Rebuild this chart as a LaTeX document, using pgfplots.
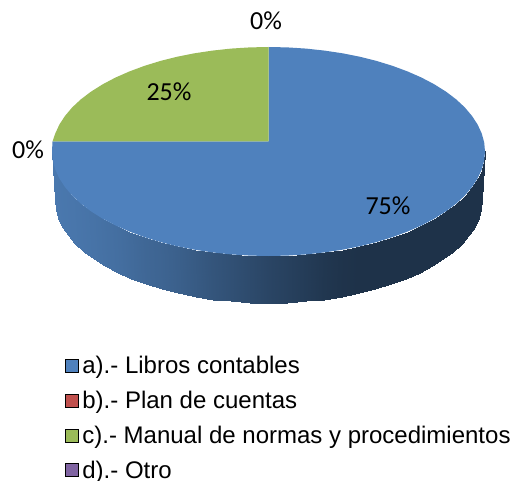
\documentclass[border=0pt]{standalone}
\usepackage{fontspec}
\usepackage{pgfplots}
\pgfplotsset{compat=1.18}
\setmainfont{Liberation Sans}
\newfontfamily\calibri{Carlito}
\definecolor{piea}{RGB}{79,129,189}
\definecolor{pieb}{RGB}{192,80,77}
\definecolor{piec}{RGB}{155,187,89}
\definecolor{pied}{RGB}{128,100,162}
\pgfplotsset{
  swatch/.style={legend image code/.code={\fill[##1] (0pt,-6.5pt) rectangle (13pt,6.5pt);\path (17pt,0pt);}},
}
\tikzset{pct/.style={font=\calibri\fontsize{26}{26}\selectfont,black,inner sep=0pt}}
\begin{document}
\begin{tikzpicture}
\begin{axis}[
  width=511pt, height=481pt, scale only axis,
  xmin=0, xmax=511, ymin=0, ymax=481, y dir=reverse,
  hide axis, clip=false,
  colormap={side}{rgb255=(30,50,73) rgb255=(74,120,174)},
  point meta min=0, point meta max=1,
  legend style={at={(axis cs:65,356)}, anchor=north west, draw=none, fill=none,
    inner sep=0pt, outer sep=0pt, font=\fontsize{24}{24}\selectfont,
    row sep=16pt, nodes={inner sep=0pt, outer sep=0pt}},
  legend cell align=left,
]
% side wall, top edge then bottom edge
\addplot[surf, shader=interp, mesh/rows=2, point meta=explicit, forget plot] table[meta=c] {
x y c
52.0 151.5 1
52.8 160.6 1
55.3 169.6 1
59.4 178.5 .99
65.1 187.2 .98
72.3 195.7 .97
81.0 203.8 .95
91.1 211.4 .93
102.7 218.7 .90
115.4 225.4 .87
129.3 231.5 .82
144.3 237.1 .76
160.2 242.0 .72
177.0 246.2 .66
194.5 249.7 .58
212.5 252.4 .50
230.9 254.4 .43
249.6 255.6 .35
268.5 256.0 .27
287.4 255.6 .21
306.1 254.4 .14
324.5 252.4 .07
342.5 249.7 .02
360.0 246.2 0
376.8 242.0 0
392.7 237.1 0
407.7 231.5 0
421.6 225.4 0
434.3 218.7 0
445.9 211.4 0
456.0 203.8 0
464.7 195.7 0
471.9 187.2 0
477.6 178.5 0
481.7 169.6 0
484.2 160.6 0
485.0 151.5 0
55.0 200.0 1
55.8 209.0 1
58.2 217.9 1
62.3 226.7 .99
67.9 235.2 .98
75.0 243.5 .97
83.6 251.5 .95
93.6 259.1 .93
105.0 266.2 .90
117.5 272.8 .87
131.3 278.9 .82
146.0 284.4 .76
161.7 289.2 .72
178.3 293.3 .66
195.5 296.8 .58
213.2 299.5 .50
231.4 301.4 .43
249.9 302.6 .35
268.5 303.0 .27
287.1 302.6 .21
305.6 301.4 .14
323.8 299.5 .07
341.5 296.8 .02
358.7 293.3 0
375.3 289.2 0
391.0 284.4 0
405.7 278.9 0
419.5 272.8 0
432.0 266.2 0
443.4 259.1 0
453.4 251.5 0
462.0 243.5 0
469.1 235.2 0
474.7 226.7 0
478.8 217.9 0
481.2 209.0 0
482.0 200.0 0
};
% a) 75%
\addplot[fill=piea, draw=none, forget plot] table {
268.5 141.5
268.5 47.0
287.4 47.4
306.1 48.6
324.5 50.6
342.5 53.3
360.0 56.8
376.8 61.0
392.7 65.9
407.7 71.5
421.6 77.6
434.3 84.3
445.9 91.6
456.0 99.2
464.7 107.3
471.9 115.8
477.6 124.5
481.7 133.4
484.2 142.4
485.0 151.5
484.2 160.6
481.7 169.6
477.6 178.5
471.9 187.2
464.7 195.7
456.0 203.8
445.9 211.4
434.3 218.7
421.6 225.4
407.7 231.5
392.7 237.1
376.8 242.0
360.0 246.2
342.5 249.7
324.5 252.4
306.1 254.4
287.4 255.6
268.5 256.0
249.6 255.6
230.9 254.4
212.5 252.4
194.5 249.7
177.0 246.2
160.2 242.0
144.3 237.1
129.3 231.5
115.4 225.4
102.7 218.7
91.1 211.4
81.0 203.8
72.3 195.7
65.1 187.2
59.4 178.5
55.3 169.6
52.8 160.6
52.0 151.5
52.5 141.5
} --cycle;
% c) 25%
\addplot[fill=piec, draw=none, forget plot] table {
268.5 141.5
52.5 141.5
55.3 133.4
59.4 124.5
65.1 115.8
72.3 107.3
81.0 99.2
91.1 91.6
102.7 84.3
115.4 77.6
129.3 71.5
144.3 65.9
160.2 61.0
177.0 56.8
194.5 53.3
212.5 50.6
230.9 48.6
249.6 47.4
268.5 47.0
} --cycle;
\addlegendimage{swatch, fill=piea}
\addlegendentry{a).- Libros contables}
\addlegendimage{swatch, fill=pieb}
\addlegendentry{b).- Plan de cuentas}
\addlegendimage{swatch, fill=piec}
\addlegendentry{c).- Manual de normas y procedimientos}
\addlegendimage{swatch, fill=pied}
\addlegendentry{d).- Otro}
\node[pct] at (axis cs:388,206) {75\%};
\node[pct] at (axis cs:169,92) {25\%};
\node[pct] at (axis cs:266,21) {0\%};
\node[pct] at (axis cs:28,150) {0\%};
\end{axis}
\path (0,0) rectangle (511pt,481pt);
\end{tikzpicture}
\end{document}
